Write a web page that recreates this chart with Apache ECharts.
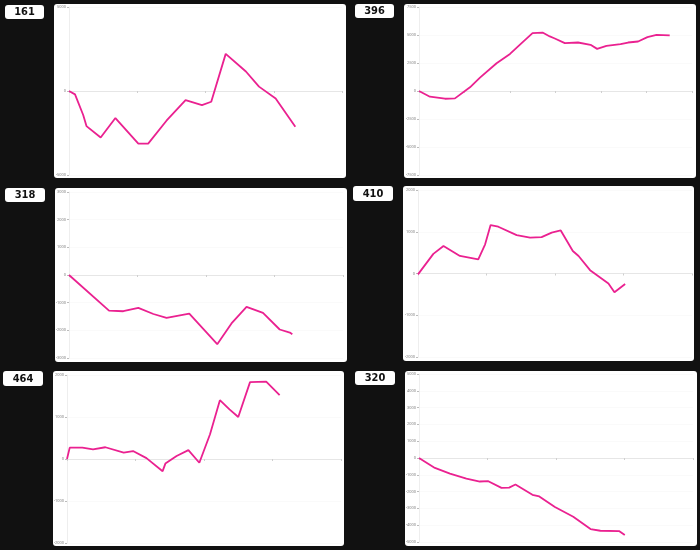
<!DOCTYPE html>
<html><head><meta charset="utf-8">
<script src="https://cdn.jsdelivr.net/npm/echarts@6/dist/echarts.min.js"></script>
<style>html,body{margin:0;padding:0;background:#111111;}#c{width:700px;height:550px;}</style>
</head><body><div id="c"></div>
<script>
// Panel labels
const panelIds = ['161', '396', '318', '410', '464', '320'];

// x positions (progress units) and values per panel
const x161 = [0, 2.2, 5.2, 6.4, 11.6, 17.0, 25.4, 29.0, 35.7, 42.7, 48.7, 52.1, 57.4, 64.8, 69.6, 75.7, 82.9];
const y161 = [0, -200, -1430, -2090, -2770, -1610, -3130, -3130, -1770, -540, -840, -640, 2210, 1160, 260, -440, -2130];

const x396 = [0, 4.8, 11.4, 15.8, 22.4, 26.8, 34.1, 40.0, 45.1, 49.9, 54.3, 57.5, 59.7, 64.1, 69.9, 75.4, 78.3, 82.4, 88.6, 91.9, 96.3, 100.4, 104.4, 110.2];
const y396 = [0, -510, -690, -660, 330, 1190, 2480, 3310, 4270, 5160, 5220, 4870, 4690, 4270, 4330, 4120, 3760, 4030, 4180, 4330, 4420, 4810, 5010, 4960];

const x318 = [0, 14.6, 19.8, 25.3, 30.8, 35.6, 43.9, 54.1, 59.3, 64.8, 70.8, 76.9, 80.6, 81.5];
const y318 = [0, -1290, -1310, -1190, -1410, -1550, -1400, -2500, -1750, -1150, -1370, -1970, -2080, -2140];

const x410 = [0, 5.6, 9.3, 15.3, 22.0, 24.5, 26.5, 29.3, 36.0, 40.9, 45.1, 48.8, 52.1, 56.5, 58.6, 62.8, 69.5, 71.7, 75.6];
const y410 = [-20, 470, 660, 420, 340, 700, 1160, 1120, 920, 860, 870, 980, 1030, 540, 420, 80, -240, -450, -250];

const x464 = [0, 1.0, 5.6, 9.5, 14.0, 20.7, 24.1, 29.0, 34.9, 35.9, 40.0, 44.3, 48.3, 52.2, 55.8, 59.3, 62.5, 66.8, 72.7, 77.6];
const y464 = [0, 270, 270, 230, 280, 150, 190, 20, -290, -110, 70, 210, -90, 590, 1400, 1180, 1000, 1830, 1840, 1520];

const x320 = [0, 5.8, 11.3, 17.3, 22.2, 25.3, 30.1, 32.9, 35.2, 41.4, 43.9, 49.6, 56.3, 62.6, 66.2, 73.0, 75.1];
const y320 = [0, -590, -930, -1230, -1400, -1380, -1780, -1760, -1580, -2190, -2290, -2920, -3500, -4230, -4330, -4350, -4590];

// y-axis ranges: [max, interval]; x-axis ranges: [max, interval]
const yRanges = [[5000, 5000], [7500, 2500], [3000, 1000], [2000, 1000], [2000, 1000], [5000, 1000]];
const xRanges = [[100, 25], [120, 20], [100, 25], [100, 25], [100, 25], [100, 25]];
const xs = [x161, x396, x318, x410, x464, x320];
const ys = [y161, y396, y318, y410, y464, y320];

// layout (pixels)
const grids = [
  {left: 69, top: 7, width: 273, height: 168},
  {left: 419, top: 7, width: 273, height: 168},
  {left: 69, top: 192, width: 274, height: 166},
  {left: 418, top: 190, width: 274, height: 167},
  {left: 67, top: 375, width: 274, height: 168},
  {left: 419, top: 374, width: 274, height: 168}
];
const boxes = [
  [54, 4, 292, 174], [404, 4, 292, 174],
  [55, 188, 292, 174], [403, 186, 291, 175],
  [53, 371, 291, 175], [405, 371, 292, 175]
];
const badges = [
  [5, 5, 39, 14], [355, 4, 39, 14],
  [5, 188, 40, 14], [353, 186, 40, 15],
  [3, 371, 40, 15], [355, 371, 40, 14]
];

const PINK = '#ea2190';
const graphic = [];
boxes.forEach(b => graphic.push({type: 'rect', z: -10, shape: {x: b[0], y: b[1], width: b[2], height: b[3], r: 3}, style: {fill: '#ffffff'}, silent: true}));
badges.forEach((b, i) => {
  graphic.push({type: 'rect', z: -10, shape: {x: b[0], y: b[1], width: b[2], height: b[3], r: 3}, style: {fill: '#ffffff'}, silent: true});
  graphic.push({type: 'text', z: 10, x: b[0] + b[2] / 2, y: b[1] + b[3] / 2 + 0.5,
    style: {text: panelIds[i], fill: '#111111', font: 'bold 11px "DejaVu Sans Condensed", "Liberation Sans Narrow", sans-serif', textAlign: 'center', textVerticalAlign: 'middle'}, silent: true});
});

const xAxis = [], yAxis = [], series = [];
for (let i = 0; i < 6; i++) {
  xAxis.push({type: 'value', gridIndex: i, min: 0, max: xRanges[i][0], interval: xRanges[i][1],
    axisLine: {onZero: true, lineStyle: {color: '#e6e6e6', width: 1}},
    axisTick: {show: true, length: 2, inside: false, lineStyle: {color: '#cfcfcf'}},
    axisLabel: {show: false}, splitLine: {show: false}});
  yAxis.push({type: 'value', gridIndex: i, min: -yRanges[i][0], max: yRanges[i][0], interval: yRanges[i][1],
    axisLine: {show: true, lineStyle: {color: '#eeeeee', width: 1}},
    axisTick: {show: true, length: 2, lineStyle: {color: '#bbbbbb'}},
    axisLabel: {fontSize: 4, color: '#888888', margin: 3, fontFamily: 'Roboto', formatter: v => String(v)},
    splitLine: {show: true, lineStyle: {color: '#fafafa', width: 1}}});
  series.push({type: 'line', xAxisIndex: i, yAxisIndex: i, showSymbol: false, symbol: 'none',
    data: xs[i].map((x, k) => [x, ys[i][k]]),
    lineStyle: {color: PINK, width: 1.8}, itemStyle: {color: PINK}, animation: false});
}

const chart = echarts.init(document.getElementById('c'), null, {renderer: 'canvas'});
chart.setOption({
  backgroundColor: '#111111',
  animation: false,
  graphic: graphic,
  grid: grids,
  xAxis: xAxis,
  yAxis: yAxis,
  series: series
});
</script></body></html>
